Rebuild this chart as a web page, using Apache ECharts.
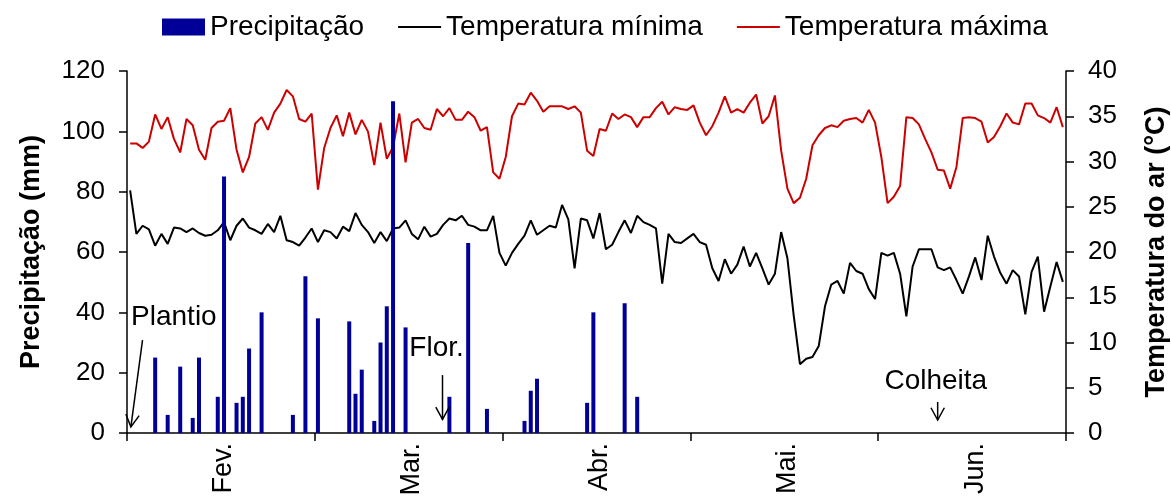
<!DOCTYPE html>
<html><head><meta charset="utf-8">
<script src="https://cdn.jsdelivr.net/npm/echarts@6/dist/echarts.min.js"></script>
<style>html,body{margin:0;padding:0;background:#fff}#c{width:1171px;height:498px}</style>
</head><body><div id="c"></div>
<script>
// ---- data ----
const days = Array.from({length: 150}, (_, i) => i + 1);   // category: day index
const monthLabels = ['Fev.', 'Mar.', 'Abr.', 'Mai.', 'Jun.'];
const precipDay = [4, 6, 8, 10, 11, 14, 15, 17, 18, 19, 21, 26, 28, 30, 35, 36, 37, 39, 40, 41, 42, 44, 51, 54, 57, 63, 64, 65, 73, 74, 79, 81];
const precipMm  = [25, 6, 22, 5, 25, 12, 85, 10, 12, 28, 40, 6, 52, 38, 37, 13, 21, 4, 30, 42, 110, 35, 12, 63, 8, 4, 14, 18, 10, 40, 43, 12];
const tMax = [
 32.0,32.0,31.5,32.2,35.2,33.6,34.9,32.5,31.0,34.7,
 34.0,31.3,30.2,33.7,34.4,34.5,35.9,31.3,28.8,30.5,
 34.2,34.9,33.5,35.4,36.4,37.9,37.2,34.7,34.4,35.3,
 26.9,31.5,33.7,35.1,32.8,35.4,33.0,34.6,33.3,29.6,
 34.3,30.3,31.6,35.3,29.9,34.3,34.7,33.7,33.5,35.8,
 35.0,35.9,34.6,34.6,35.5,34.9,33.4,33.8,28.8,28.1,
 30.5,35.0,36.4,36.3,37.6,36.7,35.5,36.1,36.1,36.1,
 35.8,36.1,35.4,31.2,30.6,33.6,33.4,35.3,34.7,35.2,
 34.9,33.8,34.9,34.9,35.9,36.6,35.2,36.0,35.8,35.7,
 36.2,34.3,32.9,33.9,35.4,37.2,35.4,35.8,35.4,36.5,
 37.4,34.2,35.0,37.3,31.2,27.0,25.4,26.0,28.1,31.8,
 32.9,33.7,34.0,33.8,34.5,34.7,34.8,34.3,35.7,34.3,
 30.5,25.4,26.1,27.3,34.9,34.8,34.1,32.5,31.0,29.1,
 29.0,27.0,29.4,34.8,34.9,34.8,34.4,32.1,32.7,33.9,
 35.3,34.3,34.1,36.4,36.4,35.1,34.8,34.3,36.0,33.8
];
const tMin = [
 26.8,22.0,22.9,22.5,20.7,22.0,20.9,22.7,22.6,22.2,
 22.6,22.1,21.8,21.9,22.4,23.3,21.3,22.9,23.7,22.7,
 22.4,22.0,23.1,22.2,24.0,21.3,21.1,20.7,21.6,22.6,
 21.1,22.4,22.2,21.5,22.8,22.3,24.3,23.0,22.2,21.0,
 22.2,21.2,22.6,22.7,23.5,22.0,21.4,22.8,21.7,22.0,
 23.0,23.7,23.5,24.0,23.0,22.8,22.4,22.4,24.0,19.9,
 18.5,19.9,20.9,21.8,23.5,21.9,22.4,22.9,22.7,25.2,
 23.6,18.2,23.7,23.5,21.5,24.3,20.3,20.8,22.2,23.5,
 22.1,24.0,23.3,23.0,22.6,16.5,22.0,21.1,21.0,21.5,
 22.0,21.1,20.8,18.2,16.8,19.2,17.6,18.6,20.6,18.4,
 19.9,18.2,16.4,17.6,22.2,19.3,13.0,7.6,8.2,8.4,
 9.6,14.0,16.4,16.8,15.4,18.8,17.9,17.6,15.9,14.8,
 19.9,19.6,19.9,17.6,12.9,18.4,20.3,20.3,20.3,18.3,
 18.0,18.3,16.9,15.4,17.3,19.4,16.9,21.8,19.5,17.7,
 16.5,18.0,17.3,13.1,17.8,19.5,13.4,16.2,18.9,16.7
];
// annotations: text anchor (day index, mm) and arrow from/to (day index, mm)
const annotations = [
  {text: 'Plantio', at: [0.15, 38.4], from: [1.98, 30.8], to: [0.12, 2.0]},
  {text: 'Flor.',   at: [44.6, 28.2], from: [49.9, 19.2], to: [49.9, 4.5]},
  {text: 'Colheita',at: [120.5, 17.1], from: [129.0, 10.3], to: [129.0, 4.3]}
];

const precipSeries = days.map(() => null);
precipDay.forEach((d, k) => { precipSeries[d] = precipMm[k]; });

const FONT = 'Liberation Sans, Arial, sans-serif';
const LINE_ICON = 'path://M0 0 H43 V2 H0 Z';
const chart = echarts.init(document.getElementById('c'), null, {renderer: 'canvas'});
const axisLine = {show: true, lineStyle: {color: '#000', width: 1.5}};
chart.setOption({
  animation: false,
  backgroundColor: '#fff',
  textStyle: {fontFamily: FONT, color: '#000'},
  legend: {
    left: 157, top: 8, itemGap: 34, itemWidth: 43, itemHeight: 17,
    textStyle: {fontSize: 28, color: '#000', fontFamily: FONT},
    data: [{name: 'Precipitação', icon: 'rect'},
           {name: 'Temperatura mínima', icon: LINE_ICON},
           {name: 'Temperatura máxima', icon: LINE_ICON}]
  },
  grid: {left: 127, right: 105, top: 71, bottom: 65, outerBoundsMode: 'none'},
  xAxis: {
    type: 'category', data: days, boundaryGap: true,
    axisLine: axisLine,
    axisTick: {show: true, length: 8, lineStyle: {color: '#000', width: 1.5},
      interval: (i) => i % 30 === 0},
    axisLabel: {
      interval: (i) => i % 30 === 15, rotate: 90, margin: 10,
      fontSize: 27, color: '#000', fontFamily: FONT,
      formatter: (v, i) => monthLabels[Math.floor(i / 30)]
    },
    splitLine: {show: false}
  },
  yAxis: [
    {type: 'value', min: 0, max: 120, interval: 20, position: 'left',
     name: 'Precipitação (mm)', nameLocation: 'middle', nameGap: 82,
     nameTextStyle: {fontSize: 27, fontWeight: 'bold', color: '#000', fontFamily: FONT},
     axisLine: axisLine, axisTick: {show: true, length: 8, lineStyle: {color: '#000', width: 1.5}},
     axisLabel: {fontSize: 26, margin: 22, color: '#000', fontFamily: FONT},
     splitLine: {show: false}},
    {type: 'value', min: 0, max: 40, interval: 5, position: 'right',
     name: 'Temperatura do ar (°C)', nameLocation: 'middle', nameGap: 77,
     nameTextStyle: {fontSize: 27, fontWeight: 'bold', color: '#000', fontFamily: FONT},
     axisLine: axisLine, axisTick: {show: true, length: 8, lineStyle: {color: '#000', width: 1.5}},
     axisLabel: {fontSize: 26, margin: 22, color: '#000', fontFamily: FONT},
     splitLine: {show: false}}
  ],
  series: [
    {name: 'Temperatura mínima', type: 'line', yAxisIndex: 1, data: tMin,
     symbol: 'none', showSymbol: false, lineStyle: {color: '#000', width: 2}, itemStyle: {color: '#000'}, z: 2},
    {name: 'Temperatura máxima', type: 'line', yAxisIndex: 1, data: tMax,
     symbol: 'none', showSymbol: false, lineStyle: {color: '#CC0000', width: 2}, itemStyle: {color: '#CC0000'}, z: 2},
    {name: 'Precipitação', type: 'bar', yAxisIndex: 0, data: precipSeries,
     barWidth: 4, itemStyle: {color: '#000099'}, z: 3}
  ]
});

function px(cat, mm) {
  const a = chart.convertToPixel({xAxisIndex: 0, yAxisIndex: 0}, [0, mm]);
  const b = chart.convertToPixel({xAxisIndex: 0, yAxisIndex: 0}, [1, mm]);
  return [a[0] + (b[0] - a[0]) * cat, a[1]];
}
const graphics = [];
annotations.forEach(a => {
  const t = px(a.at[0], a.at[1]);
  graphics.push({type: 'text', x: t[0], y: t[1], z: 10,
    style: {text: a.text, fontSize: 28, fontFamily: FONT, fill: '#000', align: 'left', verticalAlign: 'middle'}});
  const f = px(a.from[0], a.from[1]);
  const e = px(a.to[0], a.to[1]);
  graphics.push({type: 'line', z: 10, shape: {x1: f[0], y1: f[1], x2: e[0], y2: e[1]},
    style: {stroke: '#000', lineWidth: 1.5}});
  const ang = Math.atan2(f[1] - e[1], f[0] - e[0]);
  const L = 14, h = 0.5;
  const w1 = [e[0] + L * Math.cos(ang + h), e[1] + L * Math.sin(ang + h)];
  const w2 = [e[0] + L * Math.cos(ang - h), e[1] + L * Math.sin(ang - h)];
  graphics.push({type: 'polyline', z: 10, shape: {points: [w1, e, w2]},
    style: {stroke: '#000', lineWidth: 1.5, fill: null}});
});
chart.setOption({graphic: graphics});
</script>
</body></html>
